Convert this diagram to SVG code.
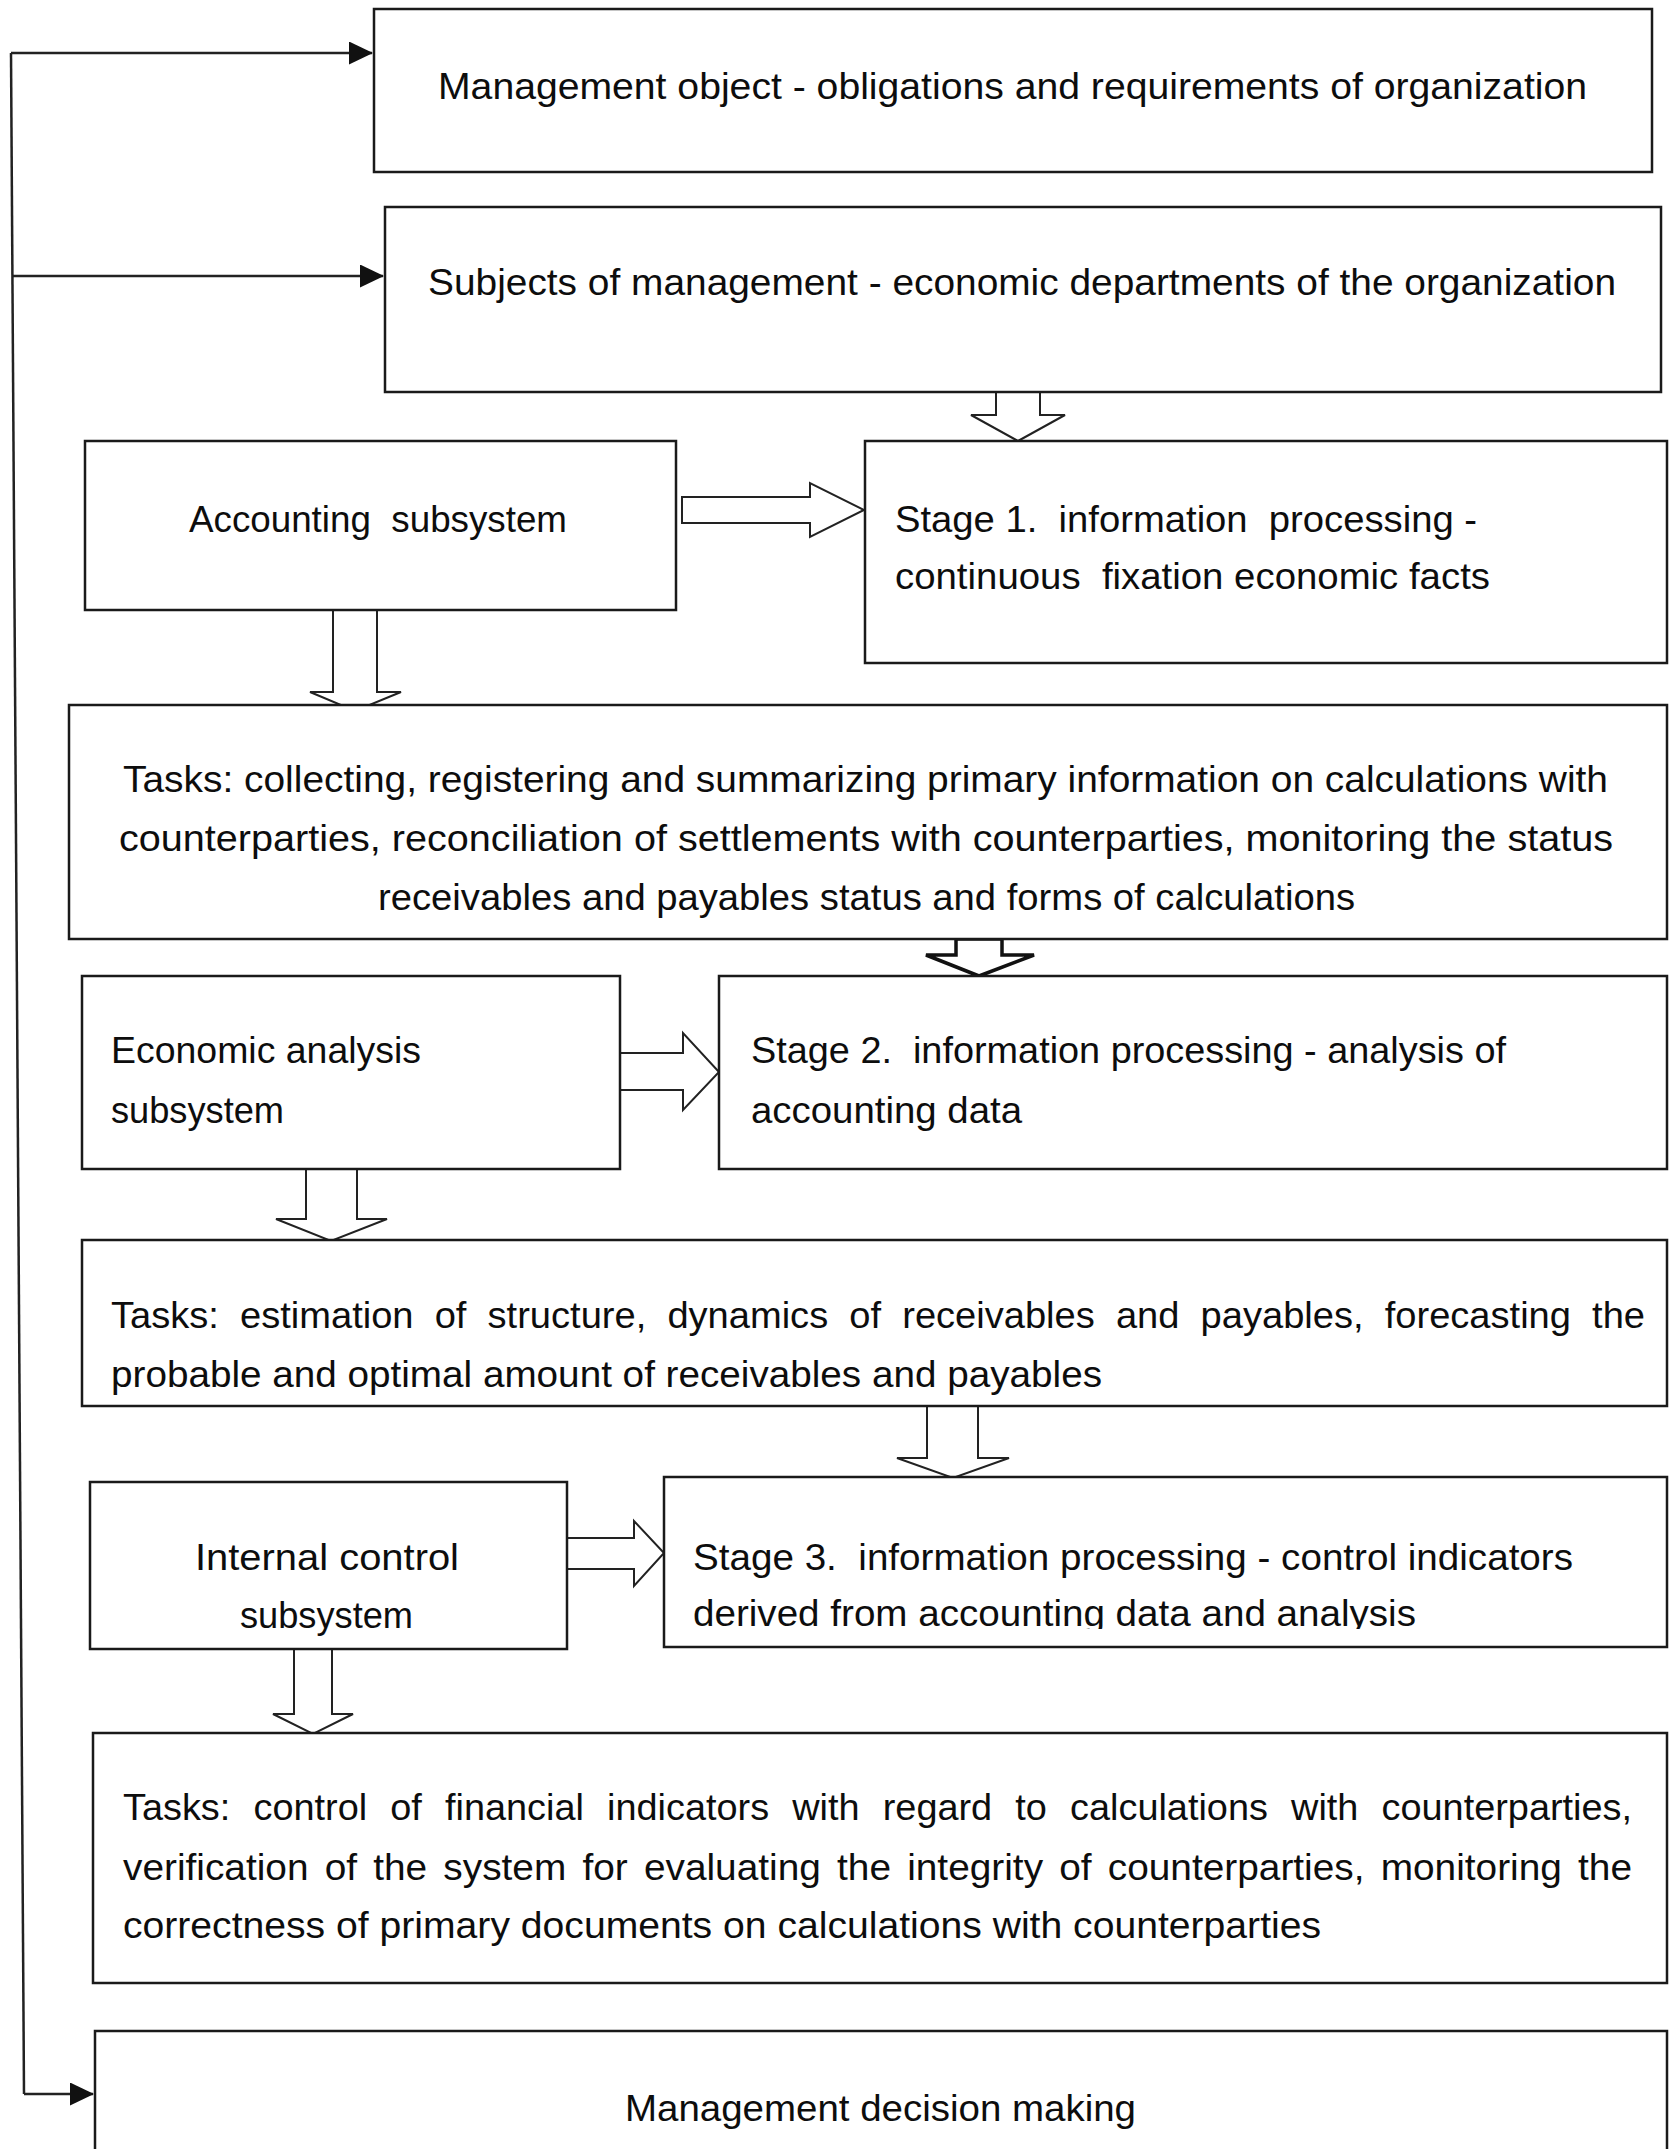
<svg xmlns="http://www.w3.org/2000/svg" width="1669" height="2149" viewBox="0 0 1669 2149">
<style>
.box{fill:#fff;stroke:#1a1a1a;stroke-width:2.5}
.t{font-family:"Liberation Sans",Arial,sans-serif;font-size:36px;fill:#0d0d0d}
.ha{fill:#fff;stroke:#222;stroke-width:2;stroke-linejoin:miter}
.hb{fill:#fff;stroke:#111;stroke-width:3.5;stroke-linejoin:miter}
.ln{fill:none;stroke:#222;stroke-width:2.5}
</style>
<defs>
<marker id="tri" markerUnits="userSpaceOnUse" markerWidth="24" markerHeight="24" refX="23" refY="11.5" orient="auto">
<path d="M0,0 L24,11.5 L0,23 Z" fill="#111"/>
</marker>
<clipPath id="clip3"><rect x="660" y="1470" width="1010" height="159"/></clipPath>
</defs>
<g id="connectors">
<path class="ln" d="M11,53 L24,2094"/>
<path class="ln" d="M11,53 L372,53" marker-end="url(#tri)"/>
<path class="ln" d="M12.4,276 L383,276" marker-end="url(#tri)"/>
<path class="ln" d="M24,2094 L93,2094" marker-end="url(#tri)"/>
<polygon class="ha" points="996,392 996,415 971,415 1018,441 1065,415 1040,415 1040,392"/>
<polygon class="ha" points="333,610 333,692 310,692 355,711 401,692 377,692 377,610"/>
<polygon class="hb" points="956,939 956,955 926,955 979,976 1034,955 1002,955 1002,939"/>
<polygon class="ha" points="306,1169 306,1219 276,1219 331,1241 387,1219 357,1219 357,1169"/>
<polygon class="ha" points="927,1406 927,1458 897,1458 953,1478 1009,1458 978,1458 978,1406"/>
<polygon class="ha" points="294,1649 294,1714 273,1714 313,1734 353,1714 332,1714 332,1649"/>
<polygon class="ha" points="682,497 810,497 810,483 864,510 810,537 810,523 682,523"/>
<polygon class="ha" points="617,1053 683,1053 683,1033 719,1072 683,1110 683,1090 617,1090"/>
<polygon class="ha" points="561,1538 634,1538 634,1521 664,1553 634,1586 634,1569 561,1569"/>
</g>
<g id="n-management-object">
<rect class="box" x="374" y="9" width="1278" height="163"/>
<text class="t" x="438" y="99" textLength="1149" lengthAdjust="spacingAndGlyphs">Management object - obligations and requirements of organization</text>
</g>
<g id="n-subjects">
<rect class="box" x="385" y="207" width="1276" height="185"/>
<text class="t" x="428" y="295" textLength="1188" lengthAdjust="spacingAndGlyphs">Subjects of management - economic departments of the organization</text>
</g>
<g id="n-accounting">
<rect class="box" x="85" y="441" width="591" height="169"/>
<text class="t" x="189" y="532" textLength="378" lengthAdjust="spacingAndGlyphs" xml:space="preserve">Accounting  subsystem</text>
</g>
<g id="n-stage1">
<rect class="box" x="865" y="441" width="802" height="222"/>
<text class="t" x="895" y="532" textLength="582" lengthAdjust="spacingAndGlyphs" xml:space="preserve">Stage 1.  information  processing -</text>
<text class="t" x="895" y="589" textLength="595" lengthAdjust="spacingAndGlyphs" xml:space="preserve">continuous  fixation economic facts</text>
</g>
<g id="n-tasks1">
<rect class="box" x="69" y="705" width="1598" height="234"/>
<text class="t" x="123" y="792" textLength="1485" lengthAdjust="spacingAndGlyphs">Tasks: collecting, registering and summarizing primary information on calculations with</text>
<text class="t" x="119" y="851" textLength="1494" lengthAdjust="spacingAndGlyphs">counterparties, reconciliation of settlements with counterparties, monitoring the status</text>
<text class="t" x="378" y="910" textLength="977" lengthAdjust="spacingAndGlyphs">receivables and payables status and forms of calculations</text>
</g>
<g id="n-econ">
<rect class="box" x="82" y="976" width="538" height="193"/>
<text class="t" x="111" y="1063" textLength="310" lengthAdjust="spacingAndGlyphs">Economic analysis</text>
<text class="t" x="111" y="1123" textLength="173" lengthAdjust="spacingAndGlyphs">subsystem</text>
</g>
<g id="n-stage2">
<rect class="box" x="719" y="976" width="948" height="193"/>
<text class="t" x="751" y="1063" textLength="755" lengthAdjust="spacingAndGlyphs" xml:space="preserve">Stage 2.  information processing - analysis of</text>
<text class="t" x="751" y="1123" textLength="271" lengthAdjust="spacingAndGlyphs">accounting data</text>
</g>
<g id="n-tasks2">
<rect class="box" x="82" y="1240" width="1585" height="166"/>
<text class="t" x="111" y="1328" word-spacing="10" textLength="1534" lengthAdjust="spacingAndGlyphs">Tasks: estimation of structure, dynamics of receivables and payables, forecasting the</text>
<text class="t" x="111" y="1387" textLength="991" lengthAdjust="spacingAndGlyphs">probable and optimal amount of receivables and payables</text>
</g>
<g id="n-internal">
<rect class="box" x="90" y="1482" width="477" height="167"/>
<text class="t" x="195" y="1570" textLength="264" lengthAdjust="spacingAndGlyphs">Internal control</text>
<text class="t" x="240" y="1628" textLength="173" lengthAdjust="spacingAndGlyphs">subsystem</text>
</g>
<g id="n-stage3">
<rect class="box" x="664" y="1477" width="1003" height="170"/>
<text class="t" x="693" y="1570" textLength="880" lengthAdjust="spacingAndGlyphs" xml:space="preserve">Stage 3.  information processing - control indicators</text>
<text class="t" x="693" y="1626" textLength="723" lengthAdjust="spacingAndGlyphs" clip-path="url(#clip3)">derived from accounting data and analysis</text>
</g>
<g id="n-tasks3">
<rect class="box" x="93" y="1733" width="1574" height="250"/>
<text class="t" x="123" y="1820" word-spacing="12" textLength="1509" lengthAdjust="spacingAndGlyphs">Tasks: control of financial indicators with regard to calculations with counterparties,</text>
<text class="t" x="123" y="1880" word-spacing="5" textLength="1509" lengthAdjust="spacingAndGlyphs">verification of the system for evaluating the integrity of counterparties, monitoring the</text>
<text class="t" x="123" y="1938" textLength="1198" lengthAdjust="spacingAndGlyphs">correctness of primary documents on calculations with counterparties</text>
</g>
<g id="n-decision">
<rect class="box" x="95" y="2031" width="1572" height="140"/>
<text class="t" x="625" y="2121" textLength="511" lengthAdjust="spacingAndGlyphs">Management decision making</text>
</g>
</svg>
